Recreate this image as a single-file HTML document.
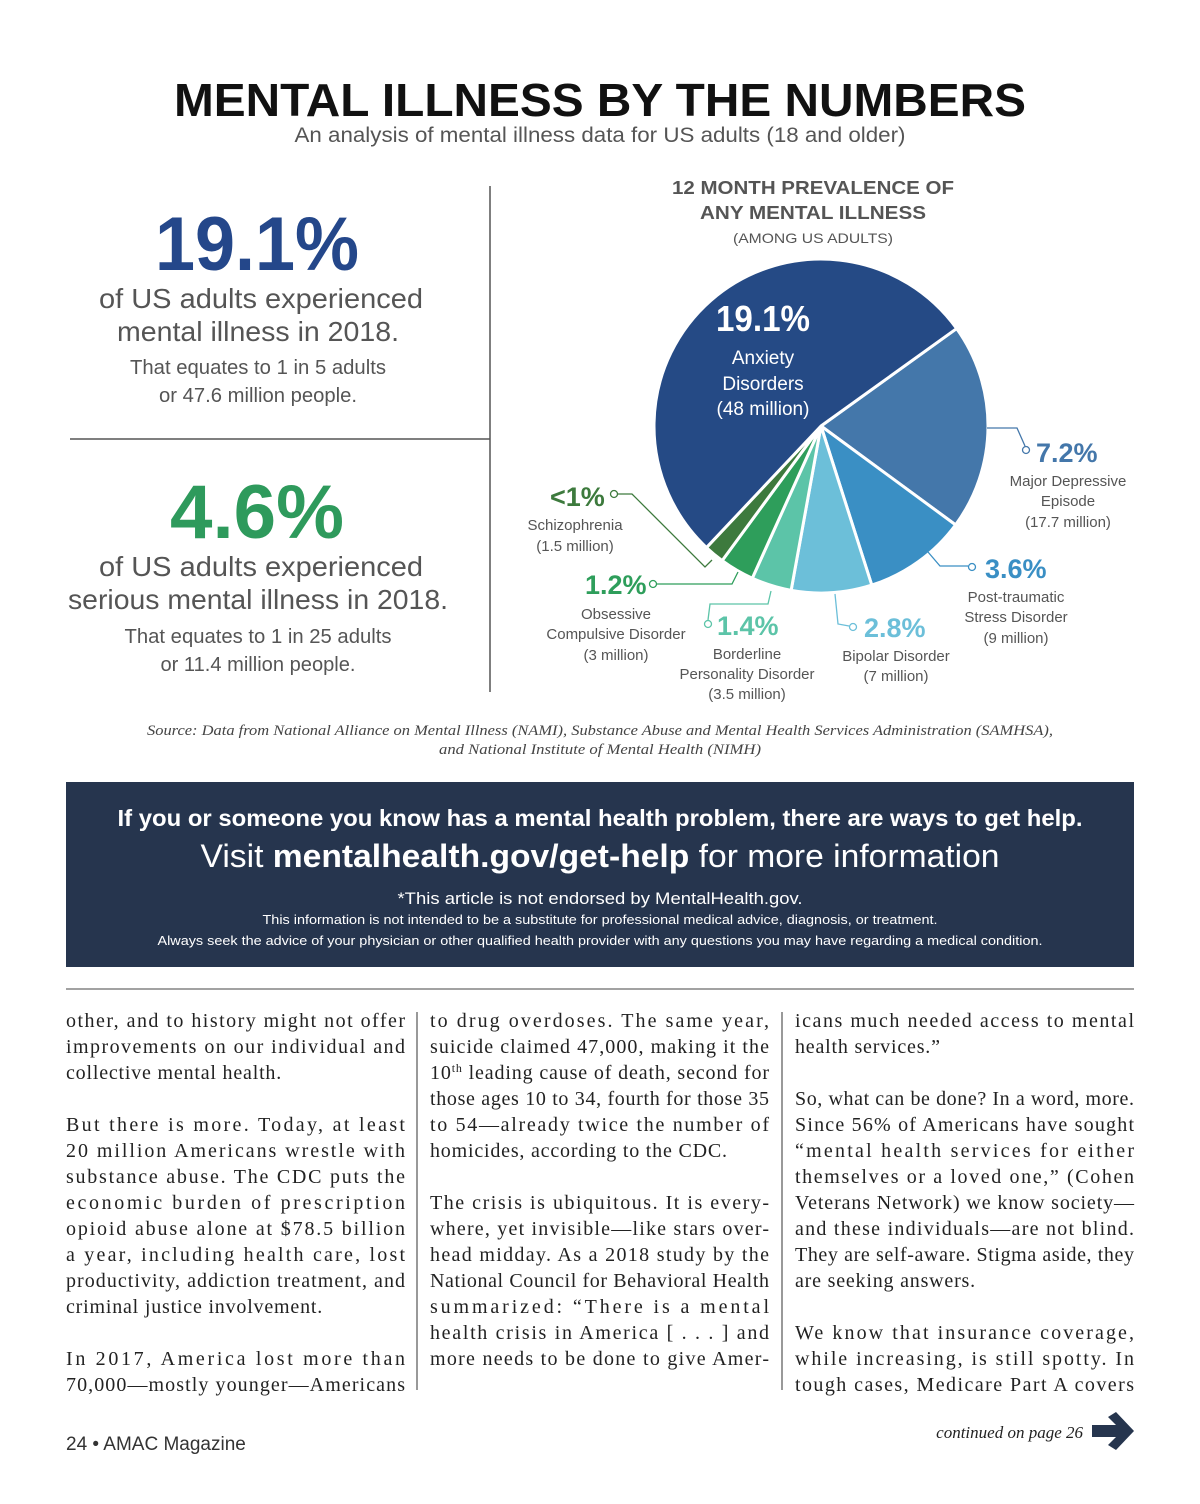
<!DOCTYPE html>
<html><head><meta charset="utf-8"><style>
html,body{margin:0;padding:0;background:#fff;}
svg{display:block;}
.s{font-family:"Liberation Sans",sans-serif;}
.r{font-family:"Liberation Serif",serif;}
</style></head><body>
<svg id="page" width="1200" height="1504" viewBox="0 0 1200 1504" xmlns="http://www.w3.org/2000/svg">
<rect width="1200" height="1504" fill="#fff"/>
<text class="s" x="600" y="116" text-anchor="middle" font-size="46" font-weight="bold" fill="#111" textLength="852" lengthAdjust="spacingAndGlyphs">MENTAL ILLNESS BY THE NUMBERS</text>
<text class="s" x="600" y="142" text-anchor="middle" font-size="21" fill="#555" textLength="611" lengthAdjust="spacingAndGlyphs">An analysis of mental illness data for US adults (18 and older)</text>

<g class="s" text-anchor="middle" fill="#555">
<text x="257" y="270" font-size="76" font-weight="bold" fill="#24478a" textLength="204" lengthAdjust="spacingAndGlyphs">19.1%</text>
<text x="261" y="308" font-size="28" textLength="324" lengthAdjust="spacingAndGlyphs">of US adults experienced</text>
<text x="258" y="341" font-size="28" textLength="282" lengthAdjust="spacingAndGlyphs">mental illness in 2018.</text>
<text x="258" y="374" font-size="20" textLength="256" lengthAdjust="spacingAndGlyphs">That equates to 1 in 5 adults</text>
<text x="258" y="402" font-size="20" textLength="198" lengthAdjust="spacingAndGlyphs">or 47.6 million people.</text>
</g>
<line x1="70" y1="439" x2="490" y2="439" stroke="#555" stroke-width="1.5"/>
<line x1="490" y1="186" x2="490" y2="692" stroke="#555" stroke-width="1.5"/>
<g class="s" text-anchor="middle" fill="#555">
<text x="257" y="538" font-size="76" font-weight="bold" fill="#2e9a5c" textLength="174" lengthAdjust="spacingAndGlyphs">4.6%</text>
<text x="261" y="576" font-size="28" textLength="324" lengthAdjust="spacingAndGlyphs">of US adults experienced</text>
<text x="258" y="609" font-size="28" textLength="380" lengthAdjust="spacingAndGlyphs">serious mental illness in 2018.</text>
<text x="258" y="643" font-size="20" textLength="267" lengthAdjust="spacingAndGlyphs">That equates to 1 in 25 adults</text>
<text x="258" y="671" font-size="20" textLength="195" lengthAdjust="spacingAndGlyphs">or 11.4 million people.</text>
</g>

<g class="s" text-anchor="middle" fill="#555">
<text x="813" y="194" font-size="18" font-weight="bold" textLength="282" lengthAdjust="spacingAndGlyphs">12 MONTH PREVALENCE OF</text>
<text x="813" y="219" font-size="18" font-weight="bold" textLength="226" lengthAdjust="spacingAndGlyphs">ANY MENTAL ILLNESS</text>
<text x="813" y="243" font-size="14" textLength="160" lengthAdjust="spacingAndGlyphs">(AMONG US ADULTS)</text>
</g>
<g id="pie"></g>
<g class="s" text-anchor="middle" fill="#555" font-size="15">
<g fill="#fff">
<text x="763" y="331" font-size="36" font-weight="bold" textLength="94" lengthAdjust="spacingAndGlyphs">19.1%</text>
<text x="763" y="364" font-size="19">Anxiety</text>
<text x="763" y="390" font-size="19">Disorders</text>
<text x="763" y="415" font-size="19">(48 million)</text>
</g>
<g fill="none" stroke-width="1.3">
<polyline points="987,428 1017,428 1025,446" stroke="#4477aa"/><circle cx="1026" cy="450" r="3.5" stroke="#4477aa" fill="#fff"/>
<polyline points="928,552 940,566 968,566" stroke="#3a8fc4"/><circle cx="972" cy="567" r="3.5" stroke="#3a8fc4" fill="#fff"/>
<polyline points="835,594 838,624 849,626" stroke="#6cbfd9"/><circle cx="853" cy="627" r="3.5" stroke="#6cbfd9" fill="#fff"/>
<polyline points="771,591 768,604 710,604 708,620" stroke="#5cc4a8"/><circle cx="708" cy="624" r="3.5" stroke="#5cc4a8" fill="#fff"/>
<polyline points="738,572 732,584 657,584" stroke="#2e9e5b"/><circle cx="653" cy="584" r="3.5" stroke="#2e9e5b" fill="#fff"/>
<polyline points="618,494 632,494 705,567 712,560" stroke="#3d7a3d"/><circle cx="614" cy="494" r="3.5" stroke="#3d7a3d" fill="#fff"/>
</g>
<g font-weight="bold" font-size="27" text-anchor="start">
<text x="1036" y="462" fill="#4477aa">7.2%</text>
<text x="985" y="578" fill="#3a8fc4">3.6%</text>
<text x="864" y="637" fill="#6cbfd9">2.8%</text>
<text x="717" y="635" fill="#5cc4a8">1.4%</text>
<text x="585" y="594" fill="#2e9e5b">1.2%</text>
<text x="550" y="506" fill="#3d7a3d">&lt;1%</text>
</g>
<text x="1068" y="486">Major Depressive</text><text x="1068" y="506">Episode</text><text x="1068" y="527">(17.7 million)</text>
<text x="1016" y="602">Post-traumatic</text><text x="1016" y="622">Stress Disorder</text><text x="1016" y="643">(9 million)</text>
<text x="896" y="661">Bipolar Disorder</text><text x="896" y="681">(7 million)</text>
<text x="747" y="659">Borderline</text><text x="747" y="679">Personality Disorder</text><text x="747" y="699">(3.5 million)</text>
<text x="616" y="619">Obsessive</text><text x="616" y="639">Compulsive Disorder</text><text x="616" y="660">(3 million)</text>
<text x="575" y="530">Schizophrenia</text><text x="575" y="551">(1.5 million)</text>
</g>

<g class="r" font-style="italic" font-size="15" fill="#444" text-anchor="middle">
<text x="600" y="735" textLength="906" lengthAdjust="spacingAndGlyphs">Source: Data from National Alliance on Mental Illness (NAMI), Substance Abuse and Mental Health Services Administration (SAMHSA),</text>
<text x="600" y="754" textLength="322" lengthAdjust="spacingAndGlyphs">and National Institute of Mental Health (NIMH)</text>
</g>

<g class="s" fill="#fff" text-anchor="middle">
<rect x="66" y="782" width="1068" height="185" fill="#26354e"/>
<text x="600" y="826" font-size="23" font-weight="bold" textLength="965" lengthAdjust="spacingAndGlyphs">If you or someone you know has a mental health problem, there are ways to get help.</text>
<text x="600" y="867" font-size="32" textLength="799" lengthAdjust="spacingAndGlyphs">Visit <tspan font-weight="bold">mentalhealth.gov/get-help</tspan> for more information</text>
<text x="600" y="904" font-size="17" textLength="405" lengthAdjust="spacingAndGlyphs">*This article is not endorsed by MentalHealth.gov.</text>
<text x="600" y="924" font-size="13" textLength="675" lengthAdjust="spacingAndGlyphs">This information is not intended to be a substitute for professional medical advice, diagnosis, or treatment.</text>
<text x="600" y="945" font-size="13" textLength="885" lengthAdjust="spacingAndGlyphs">Always seek the advice of your physician or other qualified health provider with any questions you may have regarding a medical condition.</text>
</g>
<line x1="66" y1="989" x2="1134" y2="989" stroke="#444" stroke-width="1"/>
<line x1="417" y1="1012" x2="417" y2="1390" stroke="#333" stroke-width="1"/>
<line x1="782" y1="1012" x2="782" y2="1390" stroke="#333" stroke-width="1"/>
<g id="body" class="r" font-size="20" fill="#222"></g>

<text class="s" x="66" y="1450" font-size="19" fill="#333">24 • AMAC Magazine</text>
<text class="r" x="1083" y="1438" font-size="17" font-style="italic" fill="#222" text-anchor="end">continued on page 26</text>
<path d="M1092,1425 L1116,1425 L1108,1417 L1116,1412 L1134,1431 L1116,1450 L1108,1445 L1116,1437 L1092,1437 Z" fill="#26354e"/>
</svg>
<script>
const categories = ["Major Depressive Episode","Post-traumatic Stress Disorder","Bipolar Disorder","Borderline Personality Disorder","Obsessive Compulsive Disorder","Schizophrenia","Anxiety Disorders"];
const values = [7.2, 3.6, 2.8, 1.4, 1.2, 0.7, 19.1];
const colors = ["#4477aa","#3a8fc4","#6cbfd9","#5cc4a8","#2e9e5b","#3d7a3d","#254a85"];
const NS = "http://www.w3.org/2000/svg";
const cx = 821, cy = 426, R = 167, start = -35.7;
const total = values.reduce((a,b)=>a+b,0);
function angleOf(v){ return v/total*360; }
function pt(a){ const r = a*Math.PI/180; return [cx+R*Math.cos(r), cy+R*Math.sin(r)]; }
const pie = document.getElementById('pie');
let a0 = start;
values.forEach((v,i)=>{
  const a1 = a0 + angleOf(v);
  const p0 = pt(a0), p1 = pt(a1);
  const large = (a1-a0) > 180 ? 1 : 0;
  const p = document.createElementNS(NS,'path');
  p.setAttribute('d',`M${cx},${cy} L${p0[0]},${p0[1]} A${R},${R} 0 ${large} 1 ${p1[0]},${p1[1]} Z`);
  p.setAttribute('fill',colors[i]);
  p.setAttribute('stroke','#fff');
  p.setAttribute('stroke-width','3');
  p.setAttribute('stroke-linejoin','round');
  
  
  pie.appendChild(p);
  a0 = a1;
});

const col1 = [
["other, and to history might not offer",1],["improvements on our individual and",1],["collective mental health.",0],["",0],
["But there is more. Today, at least",1],["20 million Americans wrestle with",1],["substance abuse. The CDC puts the",1],["economic burden of prescription",1],["opioid abuse alone at $78.5 billion",1],["a year, including health care, lost",1],["productivity, addiction treatment, and",1],["criminal justice involvement.",0],["",0],
["In 2017, America lost more than",1],["70,000—mostly younger—Americans",1]];
const col2 = [
["to drug overdoses. The same year,",1],["suicide claimed 47,000, making it the",1],["10|th| leading cause of death, second for",1],["those ages 10 to 34, fourth for those 35",1],["to 54—already twice the number of",1],["homicides, according to the CDC.",0],["",0],
["The crisis is ubiquitous. It is every-",1],["where, yet invisible—like stars over-",1],["head midday. As a 2018 study by the",1],["National Council for Behavioral Health",1],["summarized: “There is a mental",1],["health crisis in America [ . . . ] and",1],["more needs to be done to give Amer-",1]];
const col3 = [
["icans much needed access to mental",1],["health services.”",0],["",0],
["So, what can be done? In a word, more.",1],["Since 56% of Americans have sought",1],["“mental health services for either",1],["themselves or a loved one,” (Cohen",1],["Veterans Network) we know society—",1],["and these individuals—are not blind.",1],["They are self-aware. Stigma aside, they",1],["are seeking answers.",0],["",0],
["We know that insurance coverage,",1],["while increasing, is still spotty. In",1],["tough cases, Medicare Part A covers",1]];
const body = document.getElementById('body');
[[col1,66],[col2,430],[col3,795]].forEach(([col,x])=>{
  col.forEach(([txt,just],i)=>{
    if(!txt) return;
    const t = document.createElementNS(NS,'text');
    t.setAttribute('x',x);
    t.setAttribute('y',1027+i*26);
    if(txt.includes('|')){
      const parts = txt.split('|');
      t.appendChild(document.createTextNode(parts[0]));
      const s = document.createElementNS(NS,'tspan');
      s.setAttribute('dy','-7'); s.setAttribute('font-size','12'); s.textContent = parts[1];
      t.appendChild(s);
      const s2 = document.createElementNS(NS,'tspan');
      s2.setAttribute('dy','7'); s2.textContent = parts[2];
      t.appendChild(s2);
    } else t.textContent = txt;
    if(just){ t.setAttribute('textLength','339'); t.setAttribute('lengthAdjust','spacing'); }
    else { t.setAttribute('letter-spacing','0.8'); }
    
    
    body.appendChild(t);
  });
});
</script>
</body></html>
